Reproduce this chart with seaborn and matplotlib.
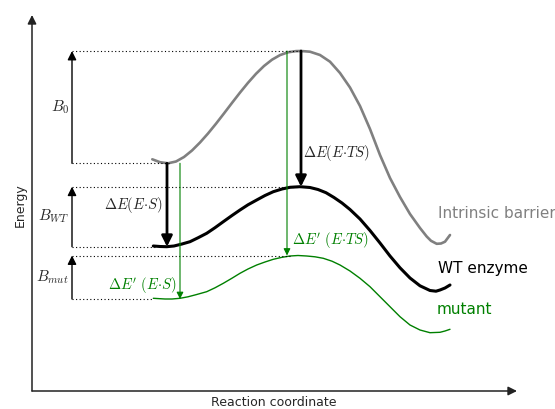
import numpy as np
import matplotlib
matplotlib.use("Agg")
import matplotlib.pyplot as plt
import seaborn as sns

# ---- data (x = reaction coordinate, E = energy, arbitrary units) ----
gray_x = [120.3, 128, 136, 144, 152, 160, 168, 176, 184, 192, 200, 208, 216, 224, 232, 240,
          248, 256, 264, 269, 278, 288, 298, 308, 318, 328, 338, 348, 358, 368, 378, 388,
          394.7, 399, 404.7, 409, 413, 418]
gray_E = [231.7, 228.8, 227.7, 229.5, 234, 240.5, 248.5, 257.5, 267.3, 277.6, 288.1, 298.4,
          308.2, 317.2, 325, 331.3, 335.9, 338.7, 339.9, 340, 339.3, 336, 329.3, 318, 303.5,
          285, 262, 236, 213, 194, 177, 163, 154.5, 150.2, 147.2, 147.5, 149.3, 156]

wt_x = [121.3, 128, 134.7, 142, 150, 158, 166, 174.7, 183, 191.3, 200, 208, 216, 224.7,
        233, 241.3, 250, 258, 268, 278, 286, 294, 302, 310, 318, 328, 338, 348, 358, 368,
        378, 388, 398, 404, 408, 413, 418]
wt_E = [145, 144.5, 144.3, 145, 147, 149.3, 153.2, 157.7, 163.3, 169.3, 175.5, 181, 186.2,
        191, 195.5, 199.3, 202, 203.7, 204.3, 203.5, 201.5, 198.3, 193.5, 188, 181.5, 172,
        160.5, 148, 135, 123.2, 113, 105.2, 100.5, 99.8, 101, 103, 106]

mut_x = [121.3, 133, 140, 148, 156, 164, 174.7, 183, 191.3, 200, 208, 216, 224.7, 233,
         241.3, 250, 258, 266, 274.7, 283, 291.3, 300, 308, 318, 328, 338, 348, 358, 368,
         378, 388, 398, 408, 413, 418]
mut_E = [92.7, 92, 92, 92.7, 94.2, 96.3, 99.3, 103.2, 107.7, 112.8, 117.7, 122, 126, 129,
         131.7, 133.7, 135, 135.5, 135, 134.2, 132.7, 129.8, 126, 120, 112.7, 104.3, 94.3,
         84.3, 74.3, 66, 61, 58.3, 58.7, 60, 61.7]

curve_names = ["Intrinsic barrier", "WT enzyme", "mutant"]

GRAY = "#808080"
GREEN = "#008000"

sns.set_style("white")
plt.rcParams["mathtext.fontset"] = "cm"
plt.rcParams["font.family"] = ["DejaVu Sans"]

fig = plt.figure(figsize=(5.55, 4.09), dpi=100)
ax = fig.add_axes([0, 0, 1, 1])
ax.set_xlim(-32, 523)
ax.set_ylim(-18, 391)
ax.axis("off")

sns.lineplot(x=gray_x, y=gray_E, sort=False, estimator=None, color=GRAY, lw=1.9, ax=ax)
sns.lineplot(x=wt_x, y=wt_E, sort=False, estimator=None, color="black", lw=2.2, ax=ax)
sns.lineplot(x=mut_x, y=mut_E, sort=False, estimator=None, color=GREEN, lw=1.0, ax=ax)

g_max, g_min = max(gray_E), min(gray_E[:6])
w_max, w_min = max(wt_E), min(wt_E[:6])
m_max, m_min = max(mut_E), min(mut_E[:6])


def arrow(x0, y0, x1, y1, color="black", lw=1.0, ms=12):
    ax.annotate("", xy=(x1, y1), xytext=(x0, y0),
                arrowprops=dict(arrowstyle="-|>", color=color, lw=lw,
                                mutation_scale=ms, shrinkA=0, shrinkB=0))


# axes arrows
arrow(0, 0, 0, 376, color="#222222", lw=1.1, ms=13)
arrow(0, 0, 485, 0, color="#222222", lw=1.1, ms=13)

# dotted level lines
dots = (0, (1, 2.2))
for lvl, xe in [(g_max, 268), (g_min, 138), (w_max, 268), (w_min, 124),
                (m_max, 258), (m_min, 121)]:
    ax.hlines(lvl, 40, xe, colors="black", linestyles=dots, lw=0.8)

# barrier arrows
arrow(40, g_min, 40, g_max, lw=1.0, ms=13)
arrow(40, w_min, 40, w_max, lw=1.0, ms=13)
arrow(40, m_min, 40, m_max, lw=1.0, ms=13)

ax.text(37, (g_min + g_max) / 2, r"$B_0$", ha="right", va="center", fontsize=11)
ax.text(37, (w_min + w_max) / 2, r"$B_{WT}$", ha="right", va="center", fontsize=11)
ax.text(37, (m_min + m_max) / 2, r"$B_{mut}$", ha="right", va="center", fontsize=11)

# stabilisation arrows
arrow(135, g_min, 135, w_min, lw=2.0, ms=16)
arrow(148, g_min, 148, m_min, color=GREEN, lw=0.8, ms=10)
arrow(269, g_max, 269, w_max, lw=2.0, ms=16)
arrow(255, g_max, 255, m_max, color=GREEN, lw=0.8, ms=10)

ax.text(131, 186, r"$\Delta E(E{\cdot}S)$", ha="right", va="center", fontsize=10.5)
ax.text(144, 106, r"$\Delta E'\ (E{\cdot}S)$", ha="right", va="center", fontsize=10.5,
        color=GREEN)
ax.text(271, 238, r"$\Delta E(E{\cdot}TS)$", ha="left", va="center", fontsize=10.5)
ax.text(260, 151, r"$\Delta E'\ (E{\cdot}TS)$", ha="left", va="center", fontsize=10.5,
        color=GREEN)

# curve labels
ax.text(406, 178, curve_names[0], ha="left", va="center", fontsize=11, color=GRAY)
ax.text(406, 123, curve_names[1], ha="left", va="center", fontsize=11, color="black")
ax.text(405, 82, curve_names[2], ha="left", va="center", fontsize=11, color=GREEN)

# axis labels
ax.text(242, -12, "Reaction coordinate", ha="center", va="center", fontsize=9)
ax.text(-12, 186, "Energy", ha="center", va="center", fontsize=9, rotation=90)

fig.savefig("out.png", dpi=100)
